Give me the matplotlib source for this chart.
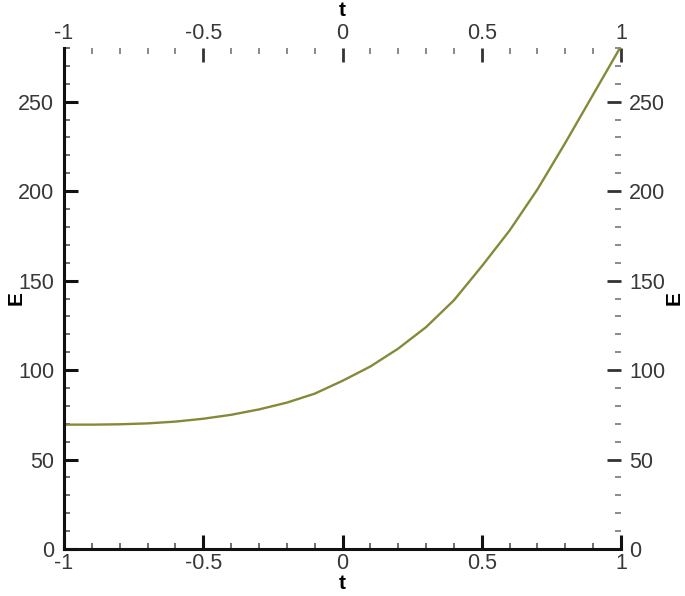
import matplotlib
matplotlib.use('Agg')
import matplotlib.pyplot as plt
from matplotlib.ticker import MultipleLocator

# values
t = [-1.0, -0.9, -0.8, -0.7, -0.6, -0.5, -0.4, -0.3, -0.2, -0.1, 0.0,
     0.1, 0.2, 0.3, 0.4, 0.5, 0.6, 0.7, 0.8, 0.9, 1.0]
E = [69.5, 69.5, 69.7, 70.2, 71.2, 72.8, 75.0, 78.0, 81.8, 86.8, 94.0,
     102.0, 112.0, 124.0, 139.0, 158.0, 178.0, 201.0, 227.0, 254.0, 281.0]

x_ticks = [-1, -0.5, 0, 0.5, 1]
x_labels = ['-1', '-0.5', '0', '0.5', '1']
y_ticks = [0, 50, 100, 150, 200, 250]
y_labels = ['0', '50', '100', '150', '200', '250']

plt.rcParams['font.family'] = ['Liberation Sans', 'DejaVu Sans']
plt.rcParams['axes.unicode_minus'] = False

fig = plt.figure(figsize=(6.85, 5.96), dpi=100)
ax = fig.add_axes([64 / 685, 1 - 549 / 596, 557 / 685, 501 / 596])

ax.plot(t, E, color='#858a38', linewidth=1.7)

ax.set_xlim(-1, 1)
ax.set_ylim(0, 280)

for s in ['top', 'right']:
    ax.spines[s].set_visible(False)
for s in ['left', 'bottom']:
    ax.spines[s].set_linewidth(2.2)
    ax.spines[s].set_color('#111111')

lab_color = '#383838'
fs = 15.5
tfs = 15

ax.set_xticks(x_ticks)
ax.set_xticklabels(x_labels)
ax.set_yticks(y_ticks)
ax.set_yticklabels(y_labels)
ax.xaxis.set_minor_locator(MultipleLocator(0.1))
ax.yaxis.set_minor_locator(MultipleLocator(10))

ax.tick_params(which='major', direction='in', length=10, width=2.2,
               color='#111111', labelsize=fs, labelcolor=lab_color)
ax.tick_params(which='minor', direction='in', length=4.5, width=1.2,
               color='#555555')
ax.tick_params(axis='x', which='major', pad=3)
ax.tick_params(axis='y', which='major', pad=7)

ax.set_xlabel('t', fontsize=tfs, fontweight='bold')
ax.set_ylabel('E', fontsize=tfs, fontweight='bold')
ax.xaxis.set_label_coords(0.5, -0.05)
ax.yaxis.set_label_coords(-0.068, 0.5)

# top axis
top = ax.secondary_xaxis('top')
top.set_xticks(x_ticks)
top.set_xticklabels(x_labels)
top.xaxis.set_minor_locator(MultipleLocator(0.1))
top.spines['top'].set_visible(False)
top.tick_params(which='major', direction='in', length=10, width=2.0,
                color='#333333', labelsize=fs, labelcolor=lab_color, pad=3)
top.tick_params(which='minor', direction='in', length=4.5, width=1.2,
                color='#777777')
top.set_xlabel('t', fontsize=tfs, fontweight='bold')
top.xaxis.set_label_coords(0.5, 1.064, transform=ax.transAxes)

# right axis
right = ax.secondary_yaxis('right')
right.set_yticks(y_ticks)
right.set_yticklabels(y_labels)
right.yaxis.set_minor_locator(MultipleLocator(10))
right.spines['right'].set_visible(False)
right.tick_params(which='major', direction='in', length=10, width=2.0,
                  color='#333333', labelsize=fs, labelcolor=lab_color, pad=6)
right.tick_params(which='minor', direction='in', length=4.5, width=1.2,
                  color='#777777')
right.set_ylabel('E', fontsize=tfs, fontweight='bold', rotation=90)
right.yaxis.set_label_coords(1.078, 0.5, transform=ax.transAxes)

fig.savefig('out.png', dpi=100)
